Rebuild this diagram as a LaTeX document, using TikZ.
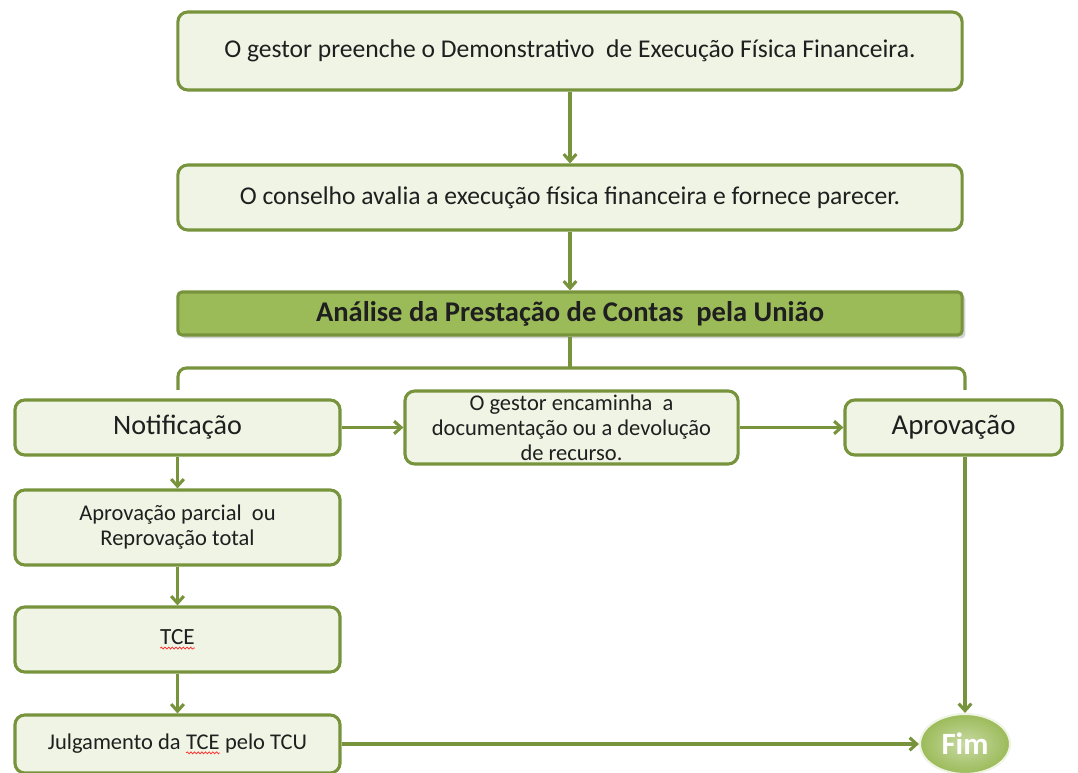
\documentclass[tikz,border=0pt]{standalone}
\usepackage{fontspec}
\setmainfont{Carlito}
\usetikzlibrary{arrows.meta,shapes.geometric,shadows,decorations.pathmorphing}
\definecolor{verde}{HTML}{77933C}
\definecolor{verdeclaro}{HTML}{EFF4E4}
\definecolor{verdemedio}{HTML}{9BBB59}
\definecolor{texto}{HTML}{1F1F1F}
% palavra sublinhada pelo corretor
\newcommand{\errado}[1]{\tikz[baseline=(pal.base),sharp corners]{\node[inner sep=0pt,outer sep=0pt,minimum width=0pt,minimum height=0pt,draw=none,fill=none] (pal) {#1};
  \draw[red!85,line width=0.5pt,sharp corners,decorate,decoration={snake,amplitude=0.7pt,segment length=2.6pt}] ([yshift=-2.4pt]pal.base west) -- ([yshift=-2.4pt]pal.base east);}}
\begin{document}
\begin{tikzpicture}[x=0.025cm,y=-0.025cm,
  caixa/.style={draw=verde,fill=verdeclaro,line width=2.2pt,rounded corners=7pt,text=texto,align=center,inner sep=2pt},
  faixa/.style={caixa,fill=verdemedio,rounded corners=3pt,drop shadow={opacity=0.35}},
  fimno/.style={ellipse,draw=verdeclaro,line width=1.5pt,inner color=verdemedio!55,outer color=verdemedio,text=white,font=\bfseries\fontsize{22}{24}\selectfont},
  seta/.style={-{Straight Barb[length=5pt,width=9pt]},draw=verde,line width=2.2pt},
  linha/.style={draw=verde,line width=2.2pt}]
\useasboundingbox (0,0) rectangle (1078,773);

\node[caixa,minimum width=19.6cm,minimum height=1.95cm,font=\fontsize{18.2}{21}\selectfont] (demo) at (570,51) {O gestor preenche o Demonstrativo\ \ de Execução Física Financeira.};
\node[caixa,minimum width=19.6cm,minimum height=1.625cm,font=\fontsize{18.2}{21}\selectfont] (conselho) at (570,197.5) {O conselho avalia a execução física financeira e fornece parecer.};
\node[faixa,minimum width=19.6cm,minimum height=1.075cm,font=\bfseries\fontsize{20.3}{23}\selectfont] (analise) at (570,313.5) {Análise da Prestação de Contas\ \ pela União};

\node[caixa,minimum width=8.125cm,minimum height=1.375cm,font=\fontsize{20}{23}\selectfont] (notif) at (177.5,427.5) {Notificação};
\node[caixa,minimum width=8.325cm,minimum height=1.825cm,font=\fontsize{16}{17.7}\selectfont] (recurso) at (571.5,427.5) {O gestor encaminha\ \ a\\documentação ou a devolução\\de recurso.};
\node[caixa,minimum width=5.425cm,minimum height=1.375cm,font=\fontsize{20.5}{23}\selectfont] (aprov) at (953.5,427.5) {Aprovação};

\node[caixa,minimum width=8.125cm,minimum height=1.875cm,font=\fontsize{16}{17.7}\selectfont] (parcial) at (177.5,527.5) {Aprovação parcial\ \ ou\\Reprovação total};
\node[caixa,minimum width=8.125cm,minimum height=1.625cm,font=\fontsize{16.5}{19}\selectfont] (tce) at (177.5,639.5) {\errado{TCE}};
\node[caixa,minimum width=8.125cm,minimum height=1.45cm,font=\fontsize{16}{19}\selectfont] (julg) at (177.5,744) {Julgamento da \errado{TCE} pelo TCU};
\node[fimno,minimum width=2.25cm,minimum height=1.5cm] (fim) at (965,744) {Fim};

\draw[seta] (demo) -- (conselho);
\draw[seta] (conselho) -- (analise);

\coordinate (chave) at (570,368);
\coordinate (esq) at (178,390);
\coordinate (dir) at (965,390);
\draw[linha] (analise.south) -- (chave);
\draw[linha,rounded corners=6pt] (esq) -- (esq |- chave) -- (dir |- chave) -- (dir);

\draw[seta] (notif.east) -- (notif.east -| recurso.west);
\draw[seta] (recurso.east) -- (recurso.east -| aprov.west);
\draw[seta] (aprov.south -| fim) -- (fim.north);

\draw[seta] (notif) -- (parcial);
\draw[seta] (parcial) -- (tce);
\draw[seta] (tce) -- (julg);
\draw[seta] (julg.east) -- (fim.west);
\end{tikzpicture}
\end{document}
